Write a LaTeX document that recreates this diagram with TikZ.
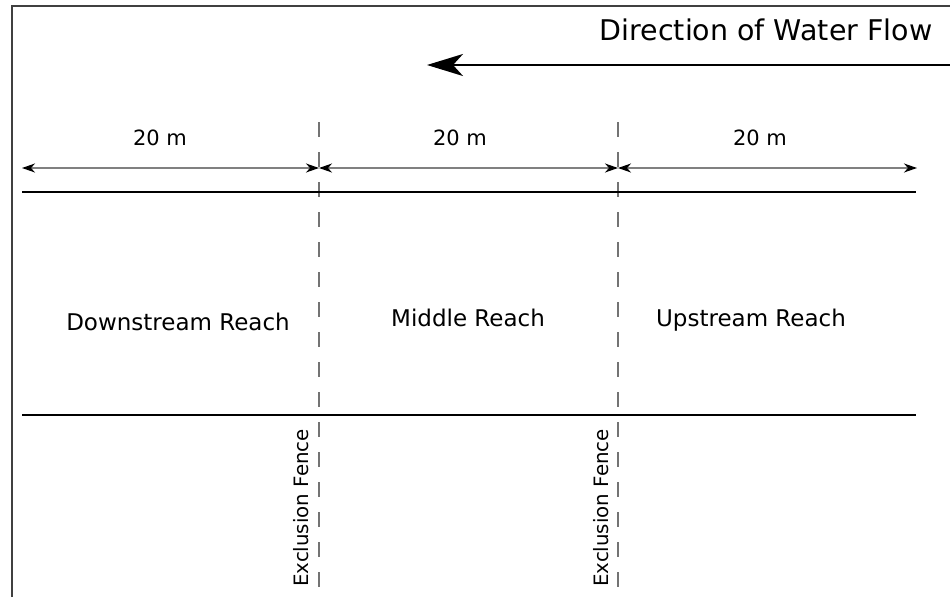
\documentclass[tikz,border=0pt]{standalone}
\usepackage{fontspec}
\setmainfont{DejaVu Sans}
\usetikzlibrary{arrows.meta}
\begin{document}
\begin{tikzpicture}[x=1pt,y=-1pt,
  lbl/.style={inner sep=0pt,anchor=center,font=\fontsize{23}{25}\selectfont},
  dimlbl/.style={inner sep=0pt,anchor=center,font=\fontsize{21}{23}\selectfont},
  fencelbl/.style={inner sep=0pt,anchor=center,rotate=90,font=\fontsize{19.8}{22}\selectfont},
  bank/.style={line width=2pt,black},
  fence/.style={line width=2pt,black!55,dash pattern=on 15pt off 15pt},
  dim/.style={line width=1.2pt,black!50,{Stealth[length=13pt,width=9pt,inset=4pt,black]}-{Stealth[length=13pt,width=9pt,inset=4pt,black]}},
  flow/.style={line width=2pt,black,-{Stealth[length=36pt,width=22pt,inset=10pt]}}]
\useasboundingbox (0,0) rectangle (950,597);
% frame
\coordinate (fbl) at (12,597);
\coordinate (ftl) at (12,6);
\coordinate (ftr) at (950,6);
\draw[line width=1.5pt,black!75] (fbl) -- (ftl) -- (ftr);
% flow arrow
\node[inner sep=0pt,anchor=center,font=\fontsize{28.5}{31}\selectfont] (title) at (766,30) {Direction of Water Flow};
\coordinate (fs) at (950,65);
\coordinate (fe) at (427,65);
\draw[flow] (fs) -- (fe);
% fences
\coordinate (f1t) at (319,122);
\coordinate (f1b) at (319,597);
\coordinate (f2t) at (618,122);
\coordinate (f2b) at (618,597);
\draw[fence] (f1t) -- (f1b);
\draw[fence] (f2t) -- (f2b);
% dimension lines
\coordinate (d0) at (22,168);
\coordinate (d1) at (319,168);
\coordinate (d2) at (618,168);
\coordinate (d3) at (917,168);
\draw[dim] (d0) -- (d1);
\draw[dim] (d1) -- (d2);
\draw[dim] (d2) -- (d3);
\node[dimlbl] (m1) at (160,138) {20 m};
\node[dimlbl] (m2) at (460,138) {20 m};
\node[dimlbl] (m3) at (760,138) {20 m};
% banks
\coordinate (b1l) at (22,192);
\coordinate (b1r) at (916,192);
\coordinate (b2l) at (22,415);
\coordinate (b2r) at (916,415);
\draw[bank] (b1l) -- (b1r);
\draw[bank] (b2l) -- (b2r);
% reach labels
\node[lbl] (down) at (178,322) {Downstream Reach};
\node[lbl] (mid) at (468,318) {Middle Reach};
\node[lbl] (up) at (751,320.5) {Upstream Reach};
% fence labels
\node[fencelbl] (e1) at (301,508) {Exclusion Fence};
\node[fencelbl] (e2) at (601,508) {Exclusion Fence};
\end{tikzpicture}
\end{document}
